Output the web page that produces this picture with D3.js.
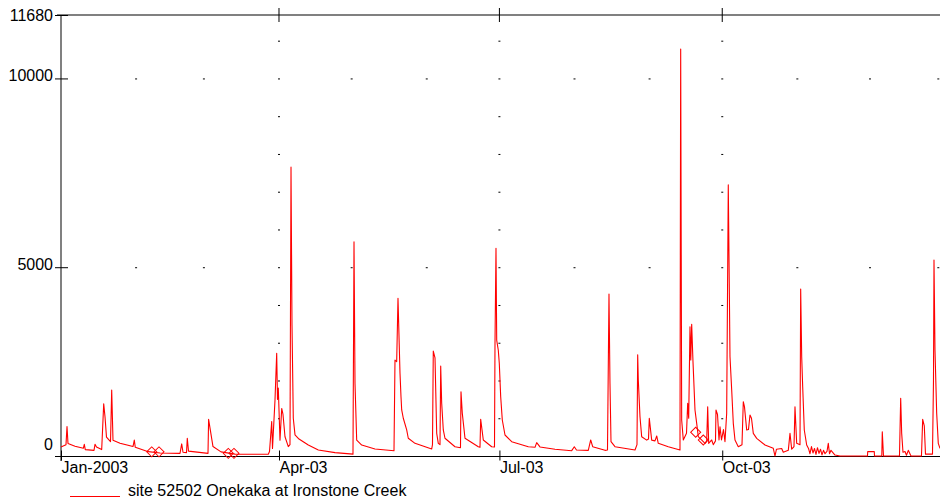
<!DOCTYPE html>
<html>
<head>
<meta charset="utf-8">
<script src="https://cdn.jsdelivr.net/npm/d3@7"></script>
<style>
  body { margin: 0; background: #fff; }
  svg { font-family: "Liberation Sans", Arial, sans-serif; }
</style>
</head>
<body>
<svg id="chart" width="940" height="500"></svg>
<script>
// flow record, days counted from 1 Jan 2003
const dayOffsets = [0, 2.06, 2.48, 2.89, 5.78, 9.21, 9.62, 10.03, 13.62, 14.04, 14.66, 16.80, 17.63, 18.17, 18.78, 20.44, 20.93, 21.47, 24.36, 29.73,
  30.26, 30.67, 36.04, 40.87, 49.13, 49.83, 50.37, 51.81, 52.14, 52.64, 60.69, 60.94, 62.75, 66.06, 71.84, 85.58, 86.08, 86.99, 87.32, 88.35,
  89.05, 89.38, 89.71, 90.41, 91.12, 91.65, 92.48, 93.84, 94.54, 94.96, 95.37, 95.90, 96.61, 98.26, 102.10, 106.23, 113.12, 120.55, 120.97, 121.38,
  122.08, 124.14, 129.63, 137.48, 137.89, 138.59, 139.13, 139.96, 140.37, 140.66, 141.32, 142.72, 143.38, 146.15, 153.04, 153.37, 153.70, 154.41, 155.11, 155.77,
  156.47, 156.76, 157.17, 157.83, 158.53, 162.66, 164.93, 165.14, 165.68, 166.79, 172.28, 172.98, 173.27, 174.35, 177.81, 178.97, 179.18, 179.59, 179.88, 180.54,
  180.95, 181.53, 182.19, 183.31, 186.07, 192.93, 195.69, 196.39, 197.75, 203.95, 210.84, 211.92, 212.82, 217.69, 218.69, 219.51, 224.59, 225.62, 226.24, 226.65,
  227.07, 228.72, 236.98, 237.80, 238.09, 238.34, 239.04, 239.74, 241.81, 242.55, 242.88, 243.87, 245.23, 245.94, 246.59, 250.72, 255.55, 255.84, 256.25, 256.92,
  258.24, 258.73, 259.15, 259.68, 260.01, 260.38, 260.92, 261.75, 262.45, 263.11, 265.88, 266.58, 266.99, 267.40, 268.64, 269.30, 270.21, 270.42, 271.04, 271.66,
  272.07, 272.69, 273.51, 274.13, 274.83, 275.49, 276.20, 276.90, 277.56, 278.26, 279.62, 281.15, 281.69, 282.18, 283.09, 283.83, 284.45, 285.07, 285.82, 287.22,
  290.65, 294.07, 294.77, 295.39, 297.54, 298.20, 300.27, 300.97, 301.67, 302.62, 303.03, 303.73, 305.10, 305.38, 305.80, 306.21, 306.87, 307.86, 308.61, 309.22,
  309.84, 310.46, 311.08, 311.70, 312.32, 312.94, 313.56, 314.18, 314.80, 315.42, 316.24, 316.78, 317.28, 317.89, 319.55, 321.61, 332.96, 333.05, 335.77, 335.85,
  338.87, 339.07, 339.57, 346.17, 346.67, 347.08, 347.62, 348.45, 349.06, 349.81, 350.92, 355.25, 355.75, 356.41, 356.91, 359.80, 360.21, 360.42, 360.83, 361.53,
  362.19, 362.90];

const flows = [240, 300, 780, 330, 260, 205, 310, 170, 150, 310, 240, 170, 1380, 1040, 500, 380, 1750, 420, 340, 250,
  424, 230, 115, 80, 70, 320, 100, 90, 470, 130, 70, 970, 250, 110, 50, 45, 120, 910, 200, 1480,
  2720, 1500, 1800, 420, 1260, 1100, 510, 250, 300, 7650, 3470, 1000, 560, 450, 290, 160, 90, 50, 5670, 1925,
  420, 290, 185, 140, 2540, 2500, 4180, 2190, 1570, 1220, 1000, 690, 470, 335, 185, 300, 2780, 2600, 600, 335,
  300, 2380, 1395, 690, 470, 246, 220, 1700, 1130, 470, 246, 230, 970, 424, 246, 240, 3000, 5500, 3070, 2800,
  2455, 1570, 953, 556, 380, 246, 230, 353, 240, 177, 141, 246, 160, 150, 424, 246, 150, 160, 4290, 1925,
  380, 246, 159, 300, 2680, 2012, 1041, 511, 420, 450, 998, 420, 400, 530, 335, 246, 159, 10780, 953, 424,
  600, 1395, 1000, 3420, 2542, 3490, 2500, 1218, 865, 511, 335, 400, 1306, 335, 424, 300, 400, 1218, 1100, 424,
  776, 424, 700, 379, 1130, 7180, 2630, 1748, 865, 424, 246, 300, 1438, 1300, 689, 700, 1086, 1000, 600, 468,
  291, 203, 0, 180, 200, 100, 150, 600, 180, 250, 1306, 335, 300, 4420, 2630, 1835, 689, 291, 200, 60,
  250, 80, 200, 40, 220, 70, 180, 30, 150, 60, 120, 335, 60, 150, 26, 0, 0, 115, 115, 0,
  0, 644, 0, 0, 1527, 600, 100, 120, 20, 150, 0, 0, 972, 800, 50, 50, 2000, 5190, 2807, 1130,
  335, 200];

// flagged readings (diamonds)
const markerDays = [37.45, 40.46, 69.07, 71.42, 262.03, 265.17];
const markerFlows = [110, 110, 70, 70, 628, 424];

const yTickValues = [0, 5000, 10000, 11680];
const quarterDates = ["2003-01-01", "2003-04-01", "2003-07-01", "2003-10-01"];
const quarterLabels = ["Jan-2003", "Apr-03", "Jul-03", "Oct-03"];
const seriesName = "site 52502 Onekaka at Ironstone Creek";

const startTime = Date.UTC(2003, 0, 1);
const endDay = 362.9;
const toDate = d => new Date(startTime + d * 864e5);

const svg = d3.select("#chart");

const x = d3.scaleUtc().domain([toDate(0), toDate(endDay)]).range([61, 940]);
const y = d3.scaleLinear().domain([0, 11680]).range([456, 15]);

let data = d3.zip(dayOffsets, flows).map(p => ({ date: toDate(p[0]), flow: p[1] }));
let markers = d3.zip(markerDays, markerFlows).map(p => ({ date: toDate(p[0]), flow: p[1] }));
let quarters = quarterDates.map(s => new Date(s + "T00:00:00Z"));

// dotted grid: month columns on the 5000 rows, quarter columns every 1000
const grid = svg.append("g").attr("fill", "#000");
let months = d3.utcMonth.range(toDate(1), toDate(endDay)).concat([toDate(endDay - 0.7)]);
months.forEach(m => {
  [5000, 10000].forEach(v => {
    grid.append("rect").attr("x", x(m) - 1).attr("y", y(v)).attr("width", 2).attr("height", 1);
  });
});
quarters.slice(1).forEach(q => {
  d3.range(1000, 11680, 1000).forEach(v => {
    if (v % 5000 == 0) return;
    grid.append("rect").attr("x", x(q) - 1).attr("y", y(v)).attr("width", 2).attr("height", 1);
  });
});

// frame lines
svg.append("line").attr("x1", 61).attr("x2", 61).attr("y1", 14).attr("y2", 461)
  .attr("stroke", "#808080").attr("stroke-width", 2);
svg.append("line").attr("x1", 57).attr("x2", 940).attr("y1", 15).attr("y2", 15)
  .attr("stroke", "#808080").attr("stroke-width", 2);

// y axis
const yAxis = svg.append("g").attr("transform", "translate(61,0)")
  .call(d3.axisLeft(y).tickValues(yTickValues).tickFormat(d3.format("d")).tickSize(6).tickPadding(2));
yAxis.select(".domain").remove();
yAxis.selectAll(".tick line").attr("x1", 7).attr("stroke", "#000");
yAxis.selectAll(".tick text")
  .attr("font-size", 16).attr("font-family", null).attr("fill", "#000")
  .attr("dy", d => d == 0 ? "-0.38em" : d == 11680 ? "0.34em" : "0.14em");

// x axis
const xAxis = svg.append("g").attr("transform", "translate(0,456.5)")
  .call(d3.axisBottom(x).tickValues(quarters).tickFormat((d, i) => quarterLabels[i]).tickSize(4));
xAxis.select(".domain").attr("d", "M55,0H940").attr("stroke", "#000");
xAxis.selectAll(".tick line").attr("y1", -6).attr("stroke", "#000");
xAxis.selectAll(".tick text")
  .attr("font-size", 16).attr("font-family", null).attr("fill", "#000")
  .attr("text-anchor", "start").attr("x", 0).attr("y", 5).attr("dy", "0.71em");

// ticks across the top line
svg.append("g").selectAll("line").data(quarters.slice(1)).join("line")
  .attr("x1", d => x(d)).attr("x2", d => x(d)).attr("y1", 8).attr("y2", 22)
  .attr("stroke", "#000");

// the flow line
const line = d3.line().x(d => x(d.date)).y(d => y(d.flow));
svg.append("path").datum(data)
  .attr("d", line)
  .attr("fill", "none").attr("stroke", "#ff0000").attr("stroke-width", 1.1)
  .attr("stroke-linejoin", "round");

svg.append("g").selectAll("path").data(markers).join("path")
  .attr("d", d3.symbol(d3.symbolSquare, 50))
  .attr("transform", d => `translate(${x(d.date)},${y(d.flow)}) rotate(45)`)
  .attr("fill", "none").attr("stroke", "#ff0000").attr("stroke-width", 1);

// legend
svg.append("line").attr("x1", 70).attr("x2", 120).attr("y1", 496.5).attr("y2", 496.5)
  .attr("stroke", "#ff0000").attr("stroke-width", 1);
svg.append("text").attr("x", 128).attr("y", 496).attr("font-size", 16).attr("fill", "#000")
  .text(seriesName);
</script>
</body>
</html>
